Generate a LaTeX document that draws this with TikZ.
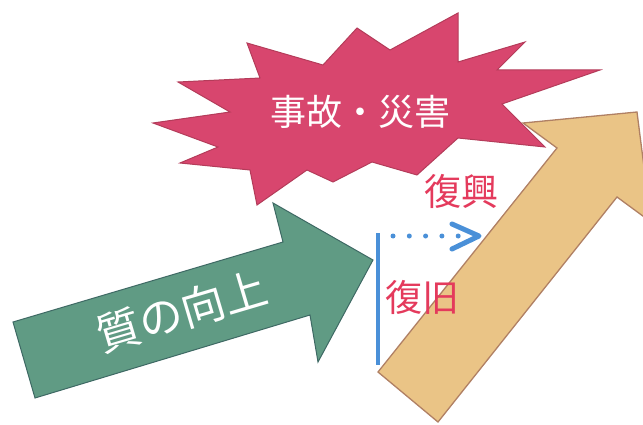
\documentclass[tikz,border=0pt]{standalone}
\usepackage{fontspec}
\newfontfamily\jpfont{Noto Sans CJK JP}
\definecolor{burst}{RGB}{216,70,110}
\definecolor{burstedge}{RGB}{180,60,90}
\definecolor{greenfill}{RGB}{96,155,132}
\definecolor{greenedge}{RGB}{62,105,100}
\definecolor{tanfill}{RGB}{234,196,134}
\definecolor{tanedge}{RGB}{176,128,100}
\definecolor{redtext}{RGB}{228,58,92}
\definecolor{bluel}{RGB}{74,144,216}
\tikzset{
  shapeedge/.style={line width=1pt, line join=miter},
  whitetext/.style={text=white, font=\jpfont\fontsize{36}{36}\selectfont, inner sep=0pt},
  redlabel/.style={text=redtext, font=\jpfont\fontsize{37}{37}\selectfont, inner sep=0pt},
}
\begin{document}
\begin{tikzpicture}[x=1pt,y=-1pt]
\useasboundingbox (0,0) rectangle (643,425);
\begin{scope}
\clip (0,0) rectangle (643,425);
% starburst
\draw[shapeedge, draw=burstedge, fill=burst]
 (153,123) -- (230,112) -- (178,82) -- (260,78) -- (247,43) -- (323,65)
 -- (357,28) -- (390,50) -- (458,13) -- (458,62) -- (525,42) -- (497,70)
 -- (600,70) -- (502,104) -- (545,147) -- (458,138) -- (417,175) -- (372,162)
 -- (333,182) -- (307,170) -- (257,205) -- (250,170) -- (180,163) -- (218,147) -- cycle;
% green arrow
\draw[shapeedge, draw=greenedge, fill=greenfill]
 (13,322) -- (283,242) -- (273,203) -- (373,260) -- (318,362) -- (310,315) -- (35,398) -- cycle;
% tan arrow
\draw[line width=1.3pt, line join=miter, draw=tanedge, fill=tanfill]
 (378,372) -- (557,148) -- (523,123) -- (637,112) -- (651,222) -- (617,197) -- (438,422) -- cycle;
\end{scope}
\node[whitetext] (disaster) at (360,112) {事故・災害};
\node[whitetext, font=\jpfont\fontsize{44}{44}\selectfont, rotate=16.5] (quality) at (182,311) {質の向上};
% blue marks
\coordinate (vtop) at (378,233);
\coordinate (vbot) at (378,365);
\draw[bluel, line width=4.5pt] (vtop) -- (vbot);
\coordinate (dstart) at (393,236);
\coordinate (dend) at (460,236);
\draw[bluel, line width=5pt, line cap=round, dash pattern=on 0pt off 16.3pt] (dstart) -- (dend);
\coordinate (chevA) at (452,224);
\coordinate (chevT) at (479,236);
\coordinate (chevB) at (452,249);
\draw[bluel, line width=5pt, line cap=round, line join=round] (chevA) -- (chevT) -- (chevB);
\node[redlabel] (fukko) at (461,191) {復興};
\node[redlabel] (fukkyu) at (422,297) {復旧};
\end{tikzpicture}
\end{document}
